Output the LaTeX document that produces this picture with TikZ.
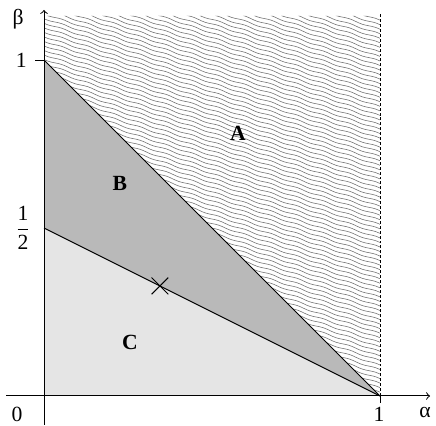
\documentclass[tikz,border=0pt]{standalone}
\usepackage{fontspec}
\setmainfont{Liberation Serif}
\usepackage{amsmath}
\usetikzlibrary{decorations.pathmorphing,shapes.misc}

\begin{document}
\begin{tikzpicture}[x=6cm,y=6cm,font=\fontsize{11}{13}\selectfont,
        hatch/.style={draw=black!55,line width=0.3pt,decorate,
            decoration={snake,amplitude=0.3pt,segment length=14pt}},
        zone/.style={font=\fontsize{11}{13}\selectfont\bfseries}]
        \useasboundingbox (-0.131,-0.0893) rectangle (1.1667,1.1786);
        \coordinate (O) at (0,0);
        \coordinate (Y1) at (0,1);
        \coordinate (Yh) at (0,0.5);
        \coordinate (X1) at (1,0);
        \coordinate (T0) at (0,1.131);
        \coordinate (T1) at (1,1.131);
        \coordinate (D1) at (1,1.137);
        \coordinate (xs) at (-0.113,0);
        \coordinate (xe) at (1.149,0);
        \coordinate (ys) at (0,-0.086);
        \coordinate (ye) at (0,1.149);
        % shaded zones
        \fill[gray!20] (O) -- (Yh) -- (X1) -- cycle;
        \fill[gray!55] (Yh) -- (Y1) -- (X1) -- cycle;
        % hatched zone
        \begin{scope}
        \clip (Y1) -- (T0) -- (T1) -- (X1) -- cycle;
        \foreach \c in {0.33,0.3435,...,1.5}
            \draw[hatch] (-0.05,\c) -- (1.05,\c-0.363);
        \end{scope}
        \draw[line width=0.5pt,dash pattern=on 1.5pt off 1pt] (X1) -- (D1);
        % axes
        \draw[line width=0.5pt,->] (xs) -- (xe);
        \draw[line width=0.5pt,->] (ys) -- (ye);
        \draw[line width=0.5pt] (Y1) -- ++(-0.027,0);
        \draw[line width=0.5pt] (X1) -- ++(0,-0.02);
        \path[line width=0.5pt]
        (Y1) edge (X1)
        (Yh) edge (X1);
        \node[cross out,draw,line width=0.5pt,minimum size=8pt,inner sep=0pt] (X) at (0.345,0.3275) {};
        % labels
        \node (lb) at (-0.077,1.122) {β};
        \node (l1) at (-0.068,1.0) {1};
        \node (lh) at (-0.0625,0.5) {$\dfrac{\text{1}}{\text{2}}$};
        \node (l0) at (-0.080,-0.054) {0};
        \node (r1) at (0.997,-0.054) {1};
        \node (la) at (1.134,-0.048) {α};
        \node[zone] (A) at (0.577,0.783) {A};
        \node[zone] (B) at (0.226,0.634) {B};
        \node[zone] (C) at (0.256,0.158) {C};
\end{tikzpicture}
\end{document}
